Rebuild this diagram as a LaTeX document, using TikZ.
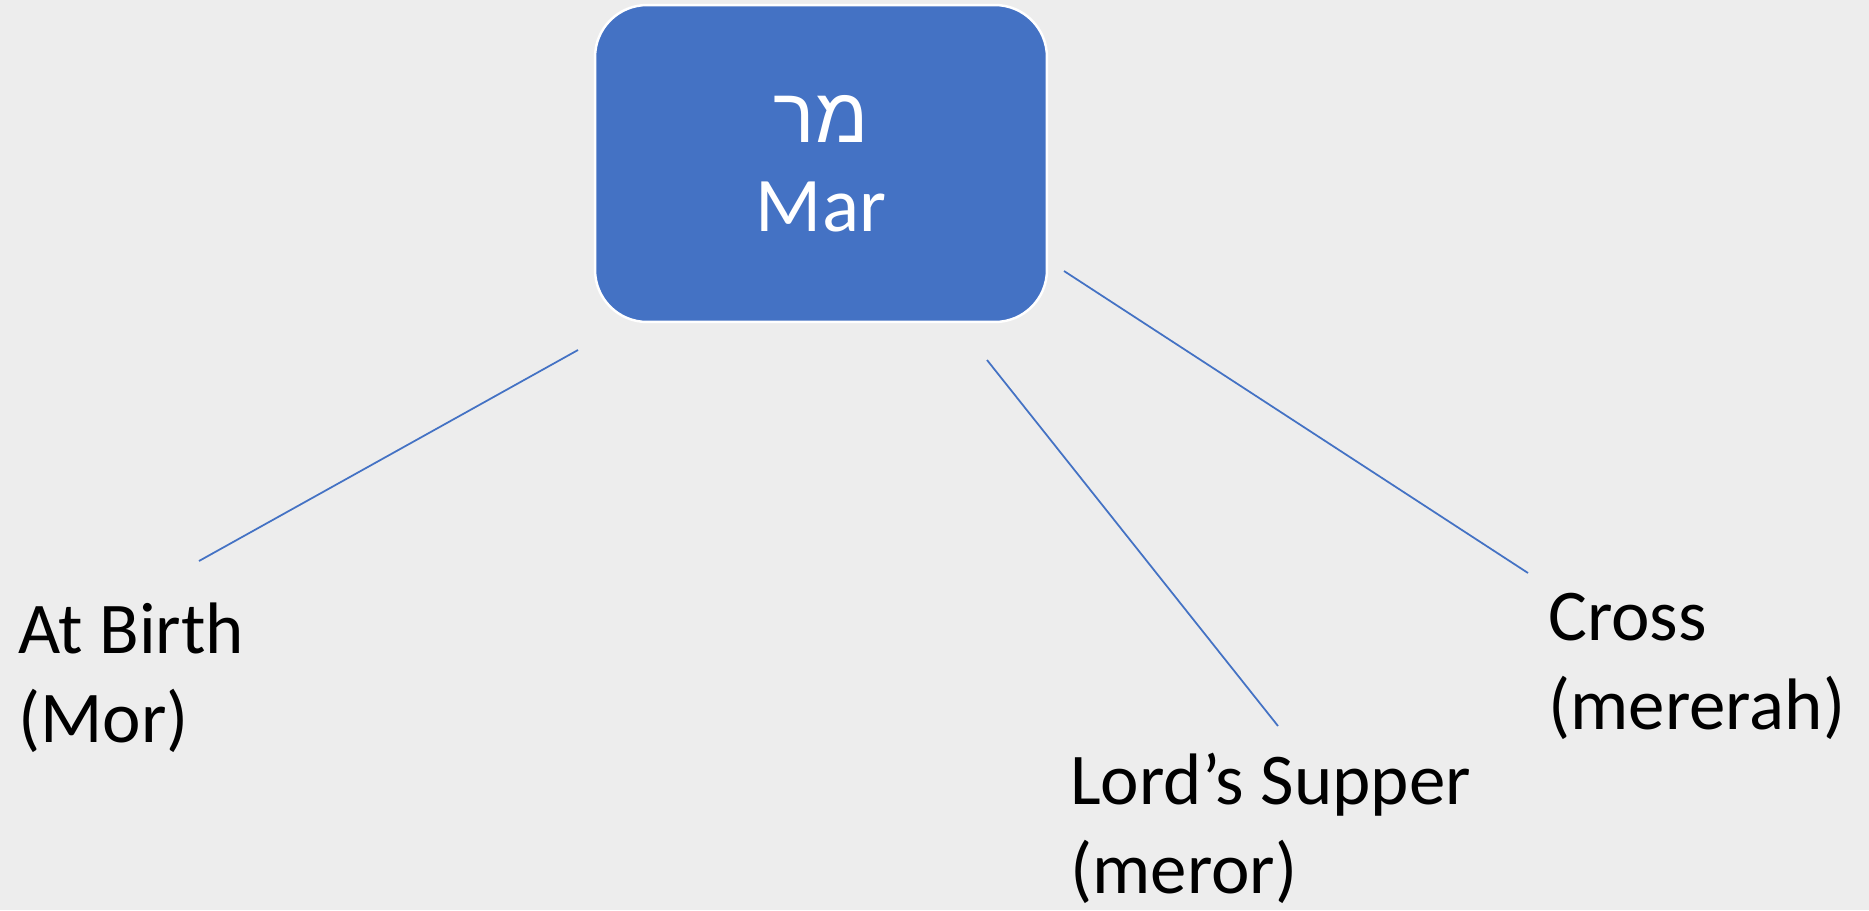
\documentclass[tikz,border=0pt]{standalone}
\usepackage{fontspec}
\setmainfont{Carlito}
\newfontfamily\hebfont[Script=Hebrew]{Liberation Sans}
\TeXXeTstate=1
\definecolor{accentblue}{HTML}{4472C4}
\definecolor{pagegray}{HTML}{EDEDED}
\begin{document}
\begin{tikzpicture}[x=0.02cm,y=-0.02cm]
\tikzset{
  rootbox/.style={draw=white,line width=1.4pt,fill=accentblue,rounded corners=1.04cm,
    text=white,font=\fontsize{44}{50.6}\selectfont,align=center},
  leaf/.style={anchor=base west,inner sep=0pt,align=left,font=\fontsize{41.5}{50.6}\selectfont},
  link/.style={accentblue,line width=1pt}
}
\fill[pagegray] (0,0) rectangle (1869,910);
\node[rootbox,minimum width=9.04cm,minimum height=6.34cm] (mar) at (821,163.5)
  {{\hebfont\beginR מר\endR}\\Mar};
% base anchor sits on the last line
\node[leaf] (birth) at (18,742) {At Birth\\(Mor)};
\node[leaf] (supper) at (1070,893) {Lord’s Supper\\(meror)};
\node[leaf] (cross) at (1548,729) {Cross\\(mererah)};
\coordinate (b0) at (578,350);
\coordinate (b1) at (199,561);
\coordinate (s0) at (987,360);
\coordinate (s1) at (1278,726);
\coordinate (c0) at (1064,271);
\coordinate (c1) at (1528,573);
\draw[link] (b0) -- (b1);
\draw[link] (s0) -- (s1);
\draw[link] (c0) -- (c1);
\end{tikzpicture}
\end{document}
